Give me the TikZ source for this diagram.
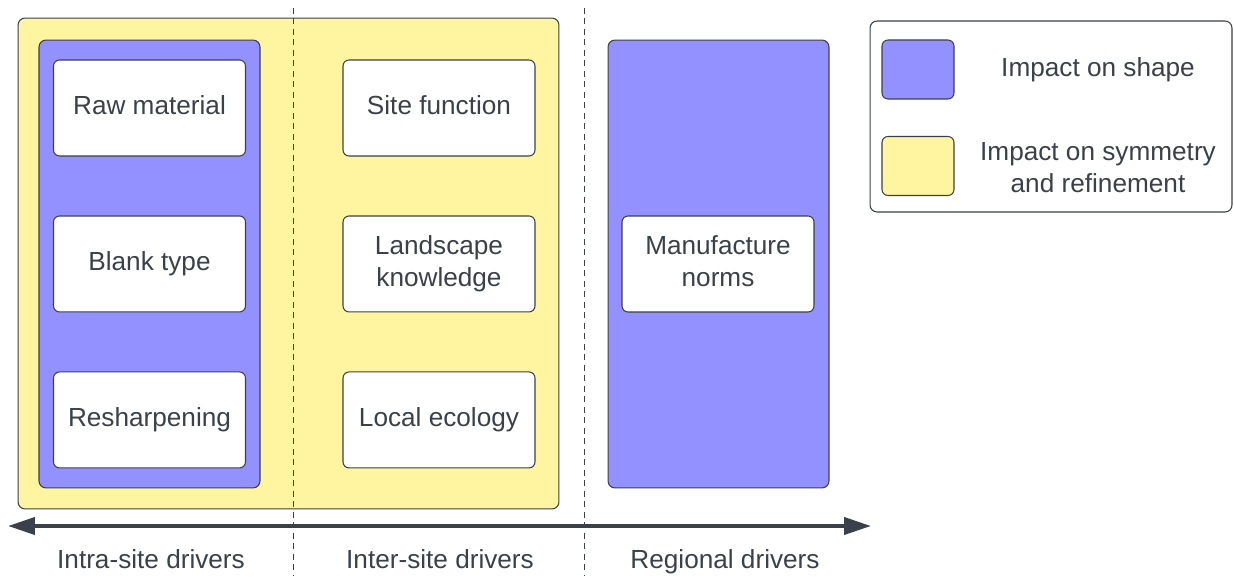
\documentclass[tikz,border=0pt]{standalone}
\usepackage{fontspec}
\setmainfont{Liberation Sans}
\usepackage{xcolor}
\usetikzlibrary{arrows.meta, positioning}

\definecolor{shapeblue}{HTML}{9391FF}
\definecolor{symyellow}{HTML}{FFF5A0}
\definecolor{inkgray}{HTML}{3A414A}

\begin{document}
\begin{tikzpicture}[x=0.02cm, y=-0.02cm, node distance=1.2cm,
  every node/.style={font=\fontsize{14.9}{18.2}\selectfont, text=inkgray},
  panel/.style={draw=inkgray, line width=0.6pt, rounded corners=0.14cm, inner sep=0pt, outer sep=0pt},
  driver/.style={panel, fill=white, rounded corners=0.12cm, minimum width=3.84cm, minimum height=1.92cm, align=center, text depth=0.35em},
  swatch/.style={panel, rounded corners=0.12cm, minimum width=1.44cm, minimum height=1.18cm},
  divider/.style={draw=inkgray, line width=0.5pt, dash pattern=on 1.2mm off 0.9mm}]
\useasboundingbox (0,0) rectangle (1234,577);

\node (local) [panel, fill=symyellow, minimum width=10.82cm, minimum height=9.82cm] at (288.5,263.5) {};
\node (intra) [panel, fill=shapeblue, minimum width=4.42cm, minimum height=8.96cm] at (149.5,264) {};
\node (region) [panel, fill=shapeblue, minimum width=4.42cm, minimum height=8.96cm] at (718.5,264) {};

\node (A) [driver] at (149.5,108) {Raw material};
\node (B) [driver, below=of A] {Blank type};
\node (C) [driver, below=of B] {Resharpening};
\node (D) [driver] at (439,108) {Site function};
\node (E) [driver, below=of D] {Landscape\\knowledge};
\node (F) [driver, below=of E] {Local ecology};
\node (G) [driver] at (718,264) {Manufacture\\norms};

\node (key) [panel, fill=white, minimum width=7.24cm, minimum height=3.82cm] at (1051,116.5) {};
\node (keyA) [swatch, fill=shapeblue] at (918,69.5) {};
\node (keyB) [swatch, fill=symyellow] at (918,166) {};
\node (keyAt) [align=center] at (1098,70) {Impact on shape};
\node (keyBt) [align=center] at (1098,167.5) {Impact on symmetry\\and refinement};

\coordinate (cut1n) at (293,8);
\coordinate (cut1s) at (293,575);
\coordinate (cut2n) at (584,8);
\coordinate (cut2s) at (584,575);
\draw[divider] (cut1n) -- (cut1s);
\draw[divider] (cut2n) -- (cut2s);

\coordinate (axisW) at (8,526);
\coordinate (axisE) at (871,526);
\draw[{Triangle[length=5.4mm,width=3.4mm]}-{Triangle[length=5.4mm,width=3.4mm]}, draw=inkgray, fill=inkgray, line width=0.08cm] (axisW) -- (axisE);

\node (intraL) [anchor=base] at (151,568) {Intra-site drivers};
\node (interL) [anchor=base] at (440,568) {Inter-site drivers};
\node (regionL) [anchor=base] at (725,568) {Regional drivers};
%
\end{tikzpicture}
\end{document}
